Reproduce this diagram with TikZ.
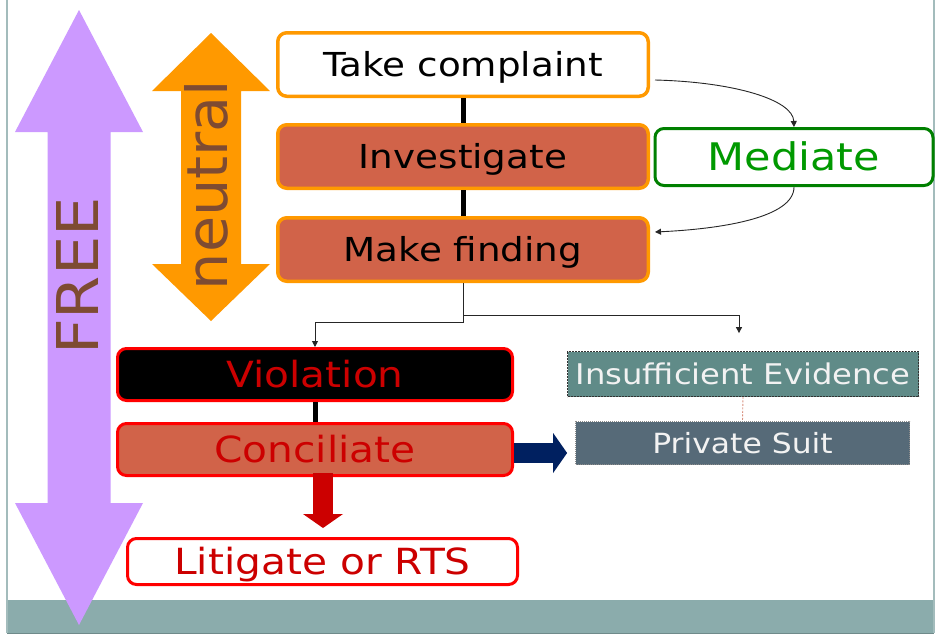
\documentclass[tikz,border=0pt]{standalone}
\usepackage{fontspec}
\setmainfont{DejaVu Sans}
\newfontfamily\mf[FakeStretch=1.13]{DejaVu Sans}
\newfontfamily\rfA[FakeStretch=1.08]{DejaVu Sans}
\newfontfamily\rfB[FakeStretch=1.04]{DejaVu Sans}
\usetikzlibrary{arrows.meta,calc}
\definecolor{purp}{HTML}{CC99FF}
\definecolor{orng}{HTML}{FF9900}
\definecolor{brwn}{HTML}{7E4B32}
\definecolor{salm}{HTML}{D16349}
\definecolor{grnB}{HTML}{008000}
\definecolor{grnT}{HTML}{009900}
\definecolor{redB}{HTML}{FF0000}
\definecolor{redT}{HTML}{CC0000}
\definecolor{tealA}{HTML}{608B88}
\definecolor{slateA}{HTML}{566A78}
\definecolor{barC}{HTML}{8BACAC}
\definecolor{frameC}{HTML}{A3BCBC}
\definecolor{navyA}{HTML}{002060}
\definecolor{dashC}{HTML}{D9907F}
\tikzset{
  box/.style={rectangle, rounded corners=9pt, inner sep=0pt, line width=3.5pt, align=center, text depth=0pt},
  orbox/.style={box, draw=orng, minimum width=370.5pt, minimum height=63.5pt, text height=24pt,
    font=\mf\fontsize{33}{40}\selectfont},
  rdbox/.style={box, draw=redB, line width=3pt, text height=26.2pt, font=\mf\fontsize{36}{43}\selectfont, text=redT},
  gybox/.style={rectangle, inner sep=0pt, text depth=0pt, text=white!95!black},
  conn/.style={draw=black!85, line width=0.9pt, -{Triangle[length=6pt,width=6pt]}},
  thickln/.style={draw=black, line width=5pt},
  blockarrow/.style={line width=20pt, -{Triangle[length=14pt,width=40pt,line width=0pt]}}
}
\begin{document}
\begin{tikzpicture}[x=1pt,y=-1pt]
\useasboundingbox (0,0) rectangle (935,643);
\fill[white] (0,0) rectangle (935,643);
% frame and bottom bar
\fill[barC] (7,600) rectangle (934,633);
\draw[frameC, line width=1.5pt] (7,0) -- (7,633);
\draw[frameC, line width=1.5pt] (934,0) -- (934,633);
\draw[barC!80!black, line width=1pt] (7,633) -- (934,633);
% FREE double arrow
\fill[purp] (79,10) -- (143,132) -- (110.5,132) -- (110.5,503) -- (143,503) -- (79,625)
  -- (15,503) -- (47.5,503) -- (47.5,132) -- (15,132) -- cycle;
\node[rotate=90, inner sep=0pt, text=brwn, font=\rfA\fontsize{57.6}{60}\selectfont] (free) at (78,276) {FREE};
% neutral double arrow
\fill[orng] (211,33) -- (270,91) -- (241,91) -- (241,264) -- (270,264) -- (211,321)
  -- (152,264) -- (181,264) -- (181,91) -- (152,91) -- cycle;
\node[rotate=90, inner sep=0pt, text=brwn, font=\rfB\fontsize{56.6}{60}\selectfont] (neut) at (206.5,185) {neutral};
% main nodes
\node[orbox, fill=white] (take) at (463,64.5) {Take complaint};
\node[orbox, fill=salm] (inv) at (463,156.5) {Investigate};
\node[orbox, fill=salm] (find) at (463,249.5) {Make finding};
\node[box, draw=grnB, line width=3pt, fill=white, minimum width=278pt, minimum height=57pt,
  text height=27.7pt, text=grnT, font=\mf\fontsize{38}{45}\selectfont] (med) at (794,157) {Mediate};
\node[rdbox, fill=black, minimum width=395pt, minimum height=52pt] (viol) at (315,374.5) {Violation};
\node[rdbox, fill=salm, minimum width=395pt, minimum height=52pt] (conc) at (315,449.5) {Conciliate};
\node[rdbox, fill=white, minimum width=390pt, minimum height=46pt] (lit) at (322.5,561.5) {Litigate or RTS};
\node[gybox, fill=tealA, draw=black!80, line width=0.8pt, dash pattern=on 2pt off 1pt,
  text height=20.8pt, font=\mf\fontsize{28.5}{34}\selectfont,
  minimum width=351pt, minimum height=45pt] (insuf) at (743,374) {Insufficient Evidence};
\node[gybox, fill=slateA, draw=black!45, line width=0.8pt, dash pattern=on 1pt off 1pt,
  text height=20.3pt, font=\mf\fontsize{27.8}{33}\selectfont,
  minimum width=334pt, minimum height=43pt] (priv) at (742.5,443) {Private Suit};
% thick vertical connectors
\draw[thickln] (take.south) -- (inv.north);
\draw[thickln] (inv.south) -- (find.north);
\draw[thickln] (viol.south) -- (conc.north);
% elbow connectors from the finding
\coordinate (j1) at (463,322);
\coordinate (j2) at (463,315);
\draw[conn, shorten <=7pt] (find.south) -- (j1) -| (viol.north);
\draw[conn, shorten >=18pt] (find.south) -- (j2) -| ([xshift=-4pt]insuf.north);
% curved mediate arrows
\draw[conn] ($(take.east)+(5,15.5)$) .. controls (735,82) and (793,100) .. (med.north);
\draw[conn] (med.south) .. controls (794,218) and (720,229) .. ($(find.east)+(5,-17.5)$);
% dashed link
\draw[dashC, line width=0.9pt, dash pattern=on 2pt off 1.5pt] (insuf.south) -- (priv.north);
% block arrows
\draw[blockarrow, navyA] ($(conc.east)+(0,3.5)$) -- ($(priv.west)+(-8,10)$);
\draw[blockarrow, redT] ($(conc.south)+(8,-4)$) -- ($(lit.north)+(0.5,-9)$);
\end{tikzpicture}
\end{document}
